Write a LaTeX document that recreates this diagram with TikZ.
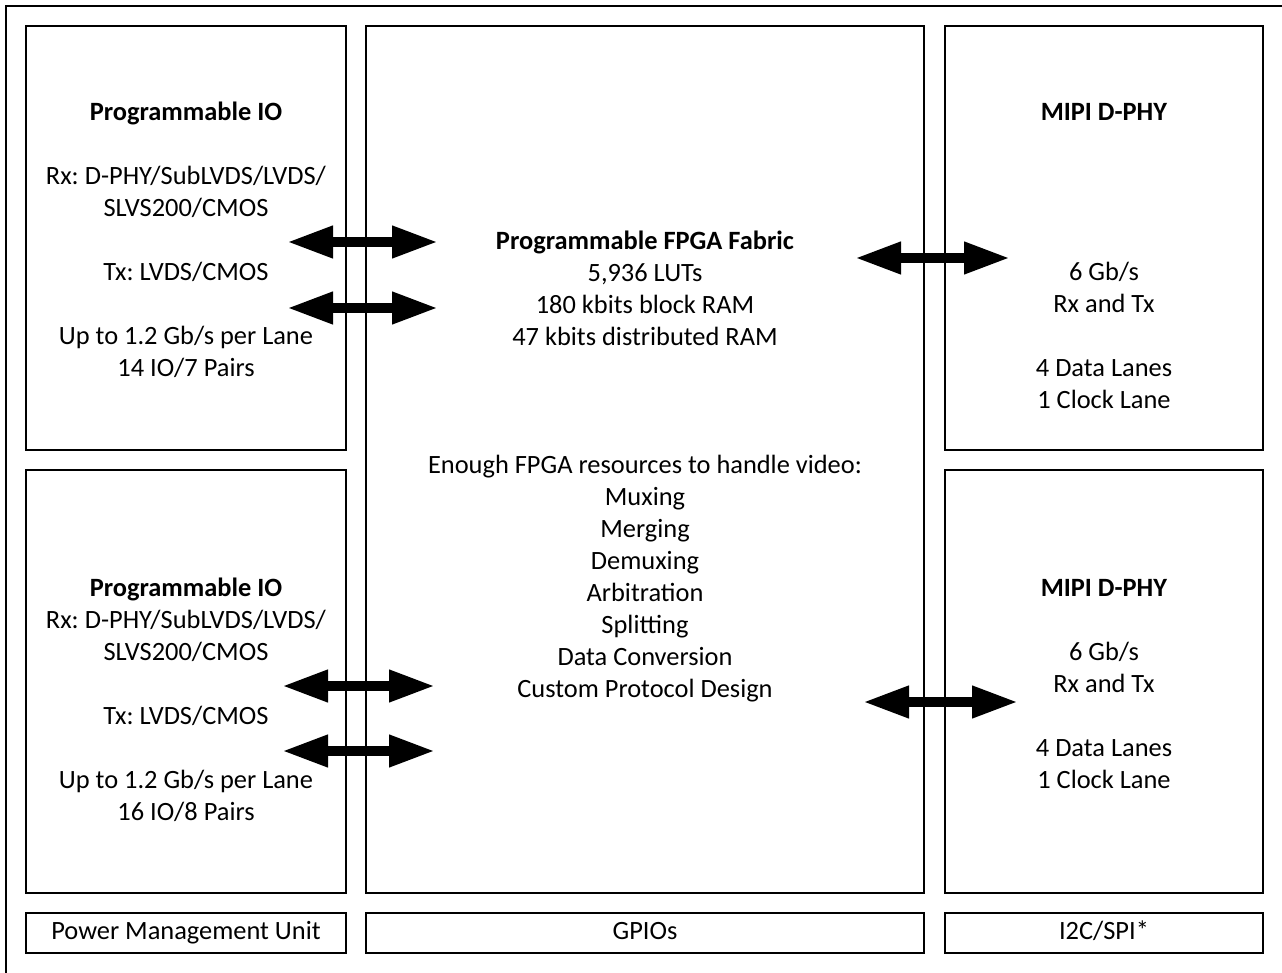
\documentclass[tikz,border=0pt]{standalone}
\usepackage{fontspec}
\setmainfont{Carlito}
\frenchspacing
\usetikzlibrary{arrows.meta}
\tikzset{
  box/.style={draw, line width=1.2pt, inner sep=0pt, outer sep=0pt, text height=14pt, text depth=4pt, font=\fontsize{19.8}{24}\selectfont},
  txt/.style={align=center, anchor=base, inner sep=0pt, font=\fontsize{19.8}{24}\selectfont},
  biarrow/.style={line width=7.5pt, {Triangle[length=34.5pt,width=22.5pt]}-{Triangle[length=34.5pt,width=22.5pt]}}
}
\begin{document}
\begin{tikzpicture}[x=0.75pt,y=-0.75pt]
        \useasboundingbox (0,0) rectangle (1282,973);
        \draw[line width=1.2pt] (6,973) -- (6,6) -- (1282,6);

        \node[box, minimum width=240pt, minimum height=318pt] at (186,238) (piotop) {};
        \node[box, minimum width=240pt, minimum height=317.25pt] at (186,681.5) (piobot) {};
        \node[box, minimum width=418.5pt, minimum height=650.25pt] at (645,459.5) (fabric) {};
        \node[box, minimum width=238.5pt, minimum height=318pt] at (1104,238) (dphytop) {};
        \node[box, minimum width=238.5pt, minimum height=317.25pt] at (1104,681.5) (dphybot) {};
        \node[box, minimum width=240pt, minimum height=30pt] at (186,933) (pmu) {Power Management Unit};
        \node[box, minimum width=418.5pt, minimum height=30pt] at (645,933) (gpio) {GPIOs};
        \node[box, minimum width=238.5pt, minimum height=30pt] at (1104,933) (i2c) {I2C/SPI*};

        % base = baseline of the last line
        \node[txt] at (186,377) (piotoptext) {\textbf{Programmable IO}\\[24pt]
          Rx: D-PHY/SubLVDS/LVDS/\\ SLVS200/CMOS\\[24pt] Tx: LVDS/CMOS\\[24pt]
          Up to 1.2 Gb/s per Lane\\ 14 IO/7 Pairs};
        \node[txt] at (186,820) (piobottext) {\textbf{Programmable IO}\\
          Rx: D-PHY/SubLVDS/LVDS/\\ SLVS200/CMOS\\[24pt] Tx: LVDS/CMOS\\[24pt]
          Up to 1.2 Gb/s per Lane\\ 16 IO/8 Pairs};
        \node[txt] at (645,697.5) (fabrictext) {\textbf{Programmable FPGA Fabric}\\
          5,936 LUTs\\ 180 kbits block RAM\\ 47 kbits distributed RAM\\[72pt]
          Enough FPGA resources to handle video:\\ Muxing\\ Merging\\ Demuxing\\
          Arbitration\\ Splitting\\ Data Conversion\\ Custom Protocol Design};
        \node[txt] at (1104,409) (dphytoptext) {\textbf{MIPI D-PHY}\\[96pt]
          6 Gb/s\\ Rx and Tx\\[24pt] 4 Data Lanes\\ 1 Clock Lane};
        \node[txt] at (1104,788) (dphybottext) {\textbf{MIPI D-PHY}\\[24pt]
          6 Gb/s\\ Rx and Tx\\[24pt] 4 Data Lanes\\ 1 Clock Lane};

        \coordinate (a1w) at (287,242);
        \coordinate (a1e) at (438,242);
        \coordinate (a2w) at (287,308);
        \coordinate (a2e) at (438,308);
        \coordinate (a3w) at (282,686);
        \coordinate (a3e) at (435,686);
        \coordinate (a4w) at (282,751);
        \coordinate (a4e) at (435,751);
        \coordinate (a5w) at (855,258);
        \coordinate (a5e) at (1010,258);
        \coordinate (a6w) at (863,702);
        \coordinate (a6e) at (1018,702);
        \draw[biarrow] (a1w) -- (a1e);
        \draw[biarrow] (a2w) -- (a2e);
        \draw[biarrow] (a3w) -- (a3e);
        \draw[biarrow] (a4w) -- (a4e);
        \draw[biarrow] (a5w) -- (a5e);
        \draw[biarrow] (a6w) -- (a6e);
\end{tikzpicture}
\end{document}
